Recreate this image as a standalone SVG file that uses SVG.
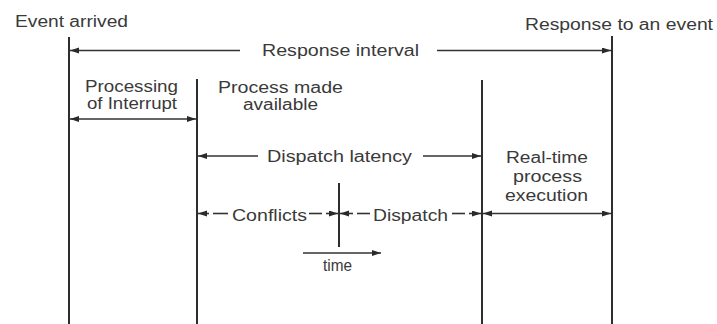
<svg xmlns="http://www.w3.org/2000/svg" width="717" height="324" viewBox="0 0 717 324">
  <defs>
    <marker id="ah" markerUnits="userSpaceOnUse" markerWidth="10" markerHeight="7" refX="9" refY="3" orient="auto-start-reverse">
      <path d="M0,0 L9,3 L0,6 z" fill="#2a2a2a"/>
    </marker>
    <style>
      text { font-family: "Liberation Sans", Arial, sans-serif; font-size: 16px; fill: #3a3a3a; }
      .vl { stroke: #2e2e2e; stroke-width: 2; fill: none; }
      .ar { stroke: #333; stroke-width: 1.6; fill: none; }
      .a2 { marker-start: url(#ah); marker-end: url(#ah); }
      .ae { marker-end: url(#ah); }
      .as { marker-start: url(#ah); }
    </style>
  </defs>
  <rect width="717" height="324" fill="#ffffff"/>

  <g id="event-arrived">
    <text x="15" y="27" textLength="113" lengthAdjust="spacingAndGlyphs">Event arrived</text>
    <line class="vl" x1="69" y1="37" x2="69" y2="324"/>
  </g>
  <g id="response-to-event">
    <text x="525" y="30" textLength="188" lengthAdjust="spacingAndGlyphs">Response to an event</text>
    <line class="vl" x1="612" y1="36" x2="612" y2="324"/>
  </g>
  <g id="process-made-available">
    <text x="218" y="93" textLength="125" lengthAdjust="spacingAndGlyphs">Process made</text>
    <text x="243" y="110" textLength="75" lengthAdjust="spacingAndGlyphs">available</text>
    <line class="vl" x1="197" y1="79" x2="197" y2="324"/>
  </g>
  <g id="dispatch-end">
    <line class="vl" x1="482" y1="80" x2="482" y2="324"/>
  </g>
  <g id="time-marker">
    <line class="vl" x1="339" y1="183" x2="339" y2="247"/>
  </g>
  <g id="labels">
    <text x="262" y="56" textLength="157" lengthAdjust="spacingAndGlyphs">Response interval</text>
    <text x="85" y="92" textLength="93" lengthAdjust="spacingAndGlyphs">Processing</text>
    <text x="87" y="109" textLength="90" lengthAdjust="spacingAndGlyphs">of Interrupt</text>
    <text x="267" y="162" textLength="145" lengthAdjust="spacingAndGlyphs">Dispatch latency</text>
    <text x="506" y="163" textLength="82" lengthAdjust="spacingAndGlyphs">Real-time</text>
    <text x="513" y="182" textLength="69" lengthAdjust="spacingAndGlyphs">process</text>
    <text x="505" y="201" textLength="83" lengthAdjust="spacingAndGlyphs">execution</text>
    <text x="232" y="221" textLength="75" lengthAdjust="spacingAndGlyphs">Conflicts</text>
    <text x="373" y="221" textLength="75" lengthAdjust="spacingAndGlyphs">Dispatch</text>
    <text x="323" y="271" textLength="29" lengthAdjust="spacingAndGlyphs">time</text>
  </g>

  <g id="connectors">
    <line class="ar as" x1="70" y1="50.5" x2="240" y2="50.5"/>
    <line class="ar ae" x1="437" y1="50.5" x2="611" y2="50.5"/>
    <line class="ar a2" x1="70" y1="119" x2="196" y2="119"/>
    <line class="ar as" x1="198" y1="156" x2="258" y2="156"/>
    <line class="ar ae" x1="423" y1="156" x2="481" y2="156"/>
    <line class="ar as" x1="198" y1="213.5" x2="209" y2="213.5"/>
    <line class="ar" x1="213" y1="213.5" x2="228" y2="213.5"/>
    <line class="ar" x1="309" y1="213.5" x2="322" y2="213.5"/>
    <line class="ar ae" x1="326" y1="213.5" x2="338" y2="213.5"/>
    <line class="ar as" x1="340" y1="213.5" x2="353" y2="213.5"/>
    <line class="ar" x1="357" y1="213.5" x2="370" y2="213.5"/>
    <line class="ar" x1="452" y1="213.5" x2="465" y2="213.5"/>
    <line class="ar ae" x1="469" y1="213.5" x2="481" y2="213.5"/>
    <line class="ar a2" x1="483" y1="213.5" x2="611" y2="213.5"/>
    <line class="ar ae" x1="303" y1="253" x2="381" y2="253"/>
  </g>
</svg>
